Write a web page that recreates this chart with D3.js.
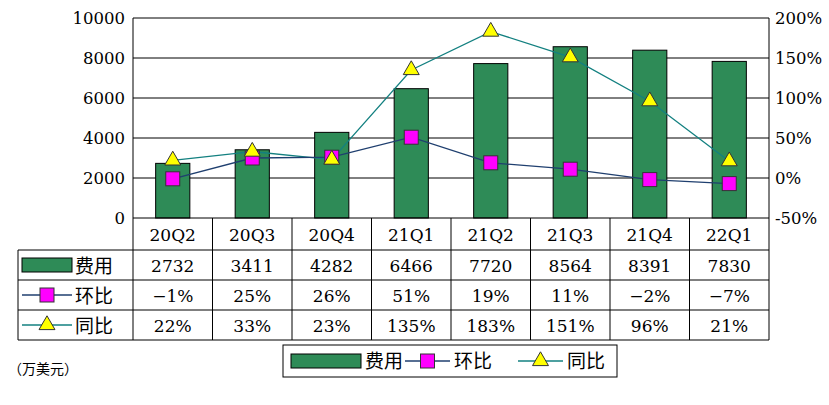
<!DOCTYPE html><html><head><meta charset="utf-8"><script src="https://cdn.jsdelivr.net/npm/d3@7"></script>
<style>body{margin:0;background:#fff}</style></head><body><svg id="c" width="829" height="405"></svg><script>
const categories=["20Q2","20Q3","20Q4","21Q1","21Q2","21Q3","21Q4","22Q1"];
const cost=[2732,3411,4282,6466,7720,8564,8391,7830];
const qoq=[-1,25,26,51,19,11,-2,-7];
const yoy=[22,33,23,135,183,151,96,21];
const leftTicks=[0,2000,4000,6000,8000,10000];
const rightTicks=[-50,0,50,100,150,200];
const seriesNames=["费用","环比","同比"];
const svg=d3.select("#c");
const L=133,R=769,T=18,B=218,TL=18;
const serif="'DejaVu Serif','Liberation Serif','Noto Sans CJK SC',serif";
const x=d3.scaleBand().domain(categories).range([L,R]);
const y=d3.scaleLinear().domain([0,10000]).range([B,T]);
const y2=d3.scaleLinear().domain([-50,200]).range([B,T]);
const green="#2E8B57",mag="#FF00FF",yel="#FFFF00",c1="#1F3F6F",c2="#138080";
svg.selectAll(".g").data(leftTicks.slice(1)).join("line").attr("x1",L).attr("x2",R).attr("y1",d=>y(d)).attr("y2",d=>y(d)).attr("stroke","#000");
svg.append("line").attr("x1",L).attr("x2",L).attr("y1",T).attr("y2",B).attr("stroke","#000");
svg.append("line").attr("x1",R).attr("x2",R).attr("y1",T).attr("y2",340).attr("stroke","#000");
svg.selectAll(".lt").data(leftTicks).join("text").attr("x",L-8).attr("y",d=>y(d)+6).attr("text-anchor","end").attr("font-family",serif).attr("font-size",16.5).text(d=>d);
svg.selectAll(".rt").data(rightTicks).join("text").attr("x",R+6).attr("y",d=>y2(d)+6).attr("font-family",serif).attr("font-size",16.5).text(d=>d+"%");
const bw=x.bandwidth()*0.43;
svg.selectAll(".b").data(cost).join("rect").attr("x",(d,i)=>x(categories[i])+x.bandwidth()/2-bw/2).attr("y",d=>y(d)).attr("width",bw).attr("height",d=>B-y(d)).attr("fill",green).attr("stroke","#000").attr("stroke-width",1);
const cx=i=>x(categories[i])+x.bandwidth()/2;
const line=d3.line().x((d,i)=>cx(i)).y(d=>y2(d));
svg.append("path").attr("d",line(yoy)).attr("fill","none").attr("stroke",c2).attr("stroke-width",1.3);
svg.append("path").attr("d",line(qoq)).attr("fill","none").attr("stroke",c1).attr("stroke-width",1.3);
const tri=d3.symbol().type(d3.symbolTriangle).size(110);
svg.selectAll(".q").data(qoq).join("rect").attr("x",(d,i)=>cx(i)-7).attr("y",d=>y2(d)-7).attr("width",14).attr("height",14).attr("fill",mag).attr("stroke","#333");
svg.selectAll(".t").data(yoy).join("path").attr("d",tri).attr("transform",(d,i)=>`translate(${cx(i)},${y2(d)})`).attr("fill",yel).attr("stroke","#333");
const rows=[250,280,310,340];
svg.append("line").attr("x1",L).attr("x2",R).attr("y1",B).attr("y2",B).attr("stroke","#000");
rows.forEach(r=>svg.append("line").attr("x1",TL).attr("x2",R).attr("y1",r).attr("y2",r).attr("stroke","#000"));
svg.append("line").attr("x1",TL).attr("x2",TL).attr("y1",250).attr("y2",340).attr("stroke","#000");
categories.forEach((c,i)=>svg.append("line").attr("x1",x(c)).attr("x2",x(c)).attr("y1",B).attr("y2",340).attr("stroke","#000"));
svg.selectAll(".ct").data(categories).join("text").attr("x",(d,i)=>cx(i)).attr("y",241).attr("text-anchor","middle").attr("font-family",serif).attr("font-size",17).text(d=>d);
const data=[cost.map(String),qoq.map(d=>(d<0?"−"+(-d):d)+"%"),yoy.map(d=>d+"%")];
data.forEach((row,r)=>{svg.selectAll(".r"+r).data(row).join("text").attr("x",(d,i)=>cx(i)).attr("y",rows[r]+22).attr("text-anchor","middle").attr("font-family",serif).attr("font-size",17).text(d=>d);});
function key(g,k,xk,yk,w){
 if(k===0){g.append("rect").attr("x",xk).attr("y",yk-7).attr("width",w).attr("height",14).attr("fill",green).attr("stroke","#000");}
 else{g.append("line").attr("x1",xk).attr("x2",xk+w).attr("y1",yk).attr("y2",yk).attr("stroke",k===1?c1:c2).attr("stroke-width",1.3);
 if(k===1)g.append("rect").attr("x",xk+w/2-7).attr("y",yk-7).attr("width",14).attr("height",14).attr("fill",mag).attr("stroke","#333");
 else g.append("path").attr("d",tri).attr("transform",`translate(${xk+w/2},${yk})`).attr("fill",yel).attr("stroke","#333");}
}
seriesNames.forEach((n,k)=>{key(svg,k,22,rows[k]+15,50);svg.append("text").attr("x",75).attr("y",rows[k]+23).attr("font-family","'Noto Sans CJK SC',sans-serif").attr("font-size",19).text(n);});
svg.append("rect").attr("x",283).attr("y",345).attr("width",334).attr("height",32).attr("fill","none").attr("stroke","#000");
const lx=[291,405,518];
seriesNames.forEach((n,k)=>{key(svg,k,lx[k],361,k===0?70:45);svg.append("text").attr("x",lx[k]+(k===0?74:49)).attr("y",368).attr("font-family","'Noto Sans CJK SC',sans-serif").attr("font-size",19).text(n);});
svg.append("text").attr("x",8).attr("y",374).attr("font-family","'Noto Sans CJK SC',sans-serif").attr("font-size",14).text("（万美元）");
</script></body></html>
